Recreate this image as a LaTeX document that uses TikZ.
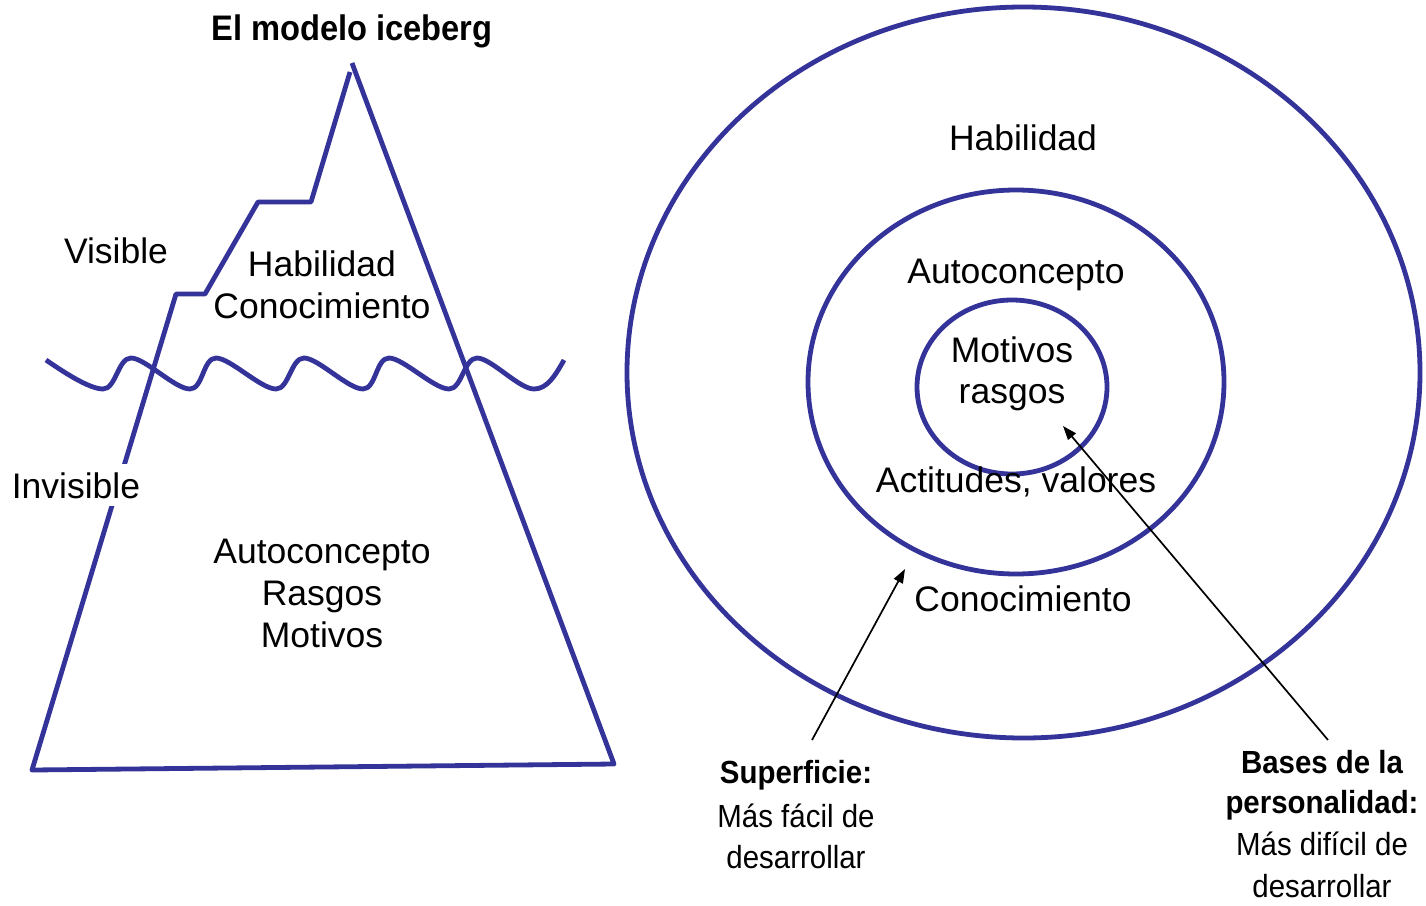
\documentclass[tikz,border=0pt]{standalone}
\usepackage{fontspec}
\setmainfont{Liberation Sans}
\newfontfamily\narrowfont[FakeStretch=0.92]{Liberation Sans}
\usetikzlibrary{arrows.meta}
\definecolor{iceblue}{RGB}{51,51,153}
\tikzset{
  blueline/.style={draw=iceblue, line width=4.8pt, line join=round},
  lbl/.style={anchor=base, inner sep=0pt, font=\fontsize{35.5}{42}\selectfont},
  titlelbl/.style={anchor=base, inner sep=0pt, font=\narrowfont\bfseries\fontsize{35.5}{42}\selectfont},
  notebold/.style={anchor=base, inner sep=0pt, font=\narrowfont\bfseries\fontsize{32}{40}\selectfont},
  notelbl/.style={anchor=base, inner sep=0pt, font=\narrowfont\fontsize{32}{40}\selectfont},
  pointer/.style={draw=black, line width=1.7pt, -{Triangle[length=14pt,width=10pt]}}
}
\begin{document}
\begin{tikzpicture}[x=1pt,y=-1pt]
\fill[white] (0,0) rectangle (1426,905);
\useasboundingbox (0,0) rectangle (1426,905);

% title
\node[titlelbl] (title) at (352,40) {El modelo iceberg};

% iceberg
\draw[blueline] (350,72) -- (311,202) -- (258,202) -- (205,294) -- (176,294) -- (32,770) -- (614,764) -- (352,63);

% water line
\draw[blueline] (46,360) .. controls (62,371) and (89,389) .. (103,389)
 .. controls (116,389) and (118,358) .. (131,358)
 .. controls (145,358) and (175,389) .. (190,389)
 .. controls (203,389) and (203,358) .. (216,358)
 .. controls (230,358) and (261,389) .. (276,389)
 .. controls (289,389) and (291,358) .. (304,358)
 .. controls (318,358) and (348,389) .. (363,389)
 .. controls (376,389) and (376,358) .. (389,358)
 .. controls (403,358) and (434,389) .. (449,389)
 .. controls (462,389) and (464,358) .. (477,358)
 .. controls (491,358) and (519,389) .. (534,389)
 .. controls (547,389) and (555,376) .. (564,360);

% iceberg labels
\node[lbl] (visible) at (116,263) {Visible};
\node[lbl, fill=white, inner xsep=2pt, inner ysep=8pt] (invisible) at (76,498) {Invisible};
\node[lbl] (hab1) at (322,276) {Habilidad};
\node[lbl] (con1) at (322,318) {Conocimiento};
\node[lbl] (auto1) at (322,563) {Autoconcepto};
\node[lbl] (ras1) at (322,605) {Rasgos};
\node[lbl] (mot1) at (322,647) {Motivos};

% concentric ellipses
\draw[blueline] (1023.5,372.5) ellipse [x radius=396.5, y radius=365.5];
\draw[blueline] (1016,382) ellipse [x radius=208, y radius=192];
\draw[blueline] (1012,387) ellipse [x radius=95, y radius=87];

% circle labels
\node[lbl] (hab2) at (1023,150) {Habilidad};
\node[lbl] (auto2) at (1016,283) {Autoconcepto};
\node[lbl] (mot2) at (1012,362) {Motivos};
\node[lbl] (ras2) at (1012,403) {rasgos};
\node[lbl] (act2) at (1016,492) {Actitudes, valores};
\node[lbl] (con2) at (1023,611) {Conocimiento};

% bottom notes
\node[notebold] (sup) at (796,783) {Superficie:};
\node[notelbl] (sup2) at (796,827) {Más fácil de};
\node[notelbl] (sup3) at (796,868) {desarrollar};
\node[notebold] (bas) at (1322,773) {Bases de la};
\node[notebold] (bas2) at (1322,813) {personalidad:};
\node[notelbl] (bas3) at (1322,855) {Más difícil de};
\node[notelbl] (bas4) at (1322,897) {desarrollar};

% pointers
\coordinate (suptail) at (812,740);
\coordinate (suphead) at (905,569);
\coordinate (bastail) at (1328,740);
\coordinate (bashead) at (1063,426);
\draw[pointer] (suptail) -- (suphead);
\draw[pointer] (bastail) -- (bashead);
\end{tikzpicture}
\end{document}
